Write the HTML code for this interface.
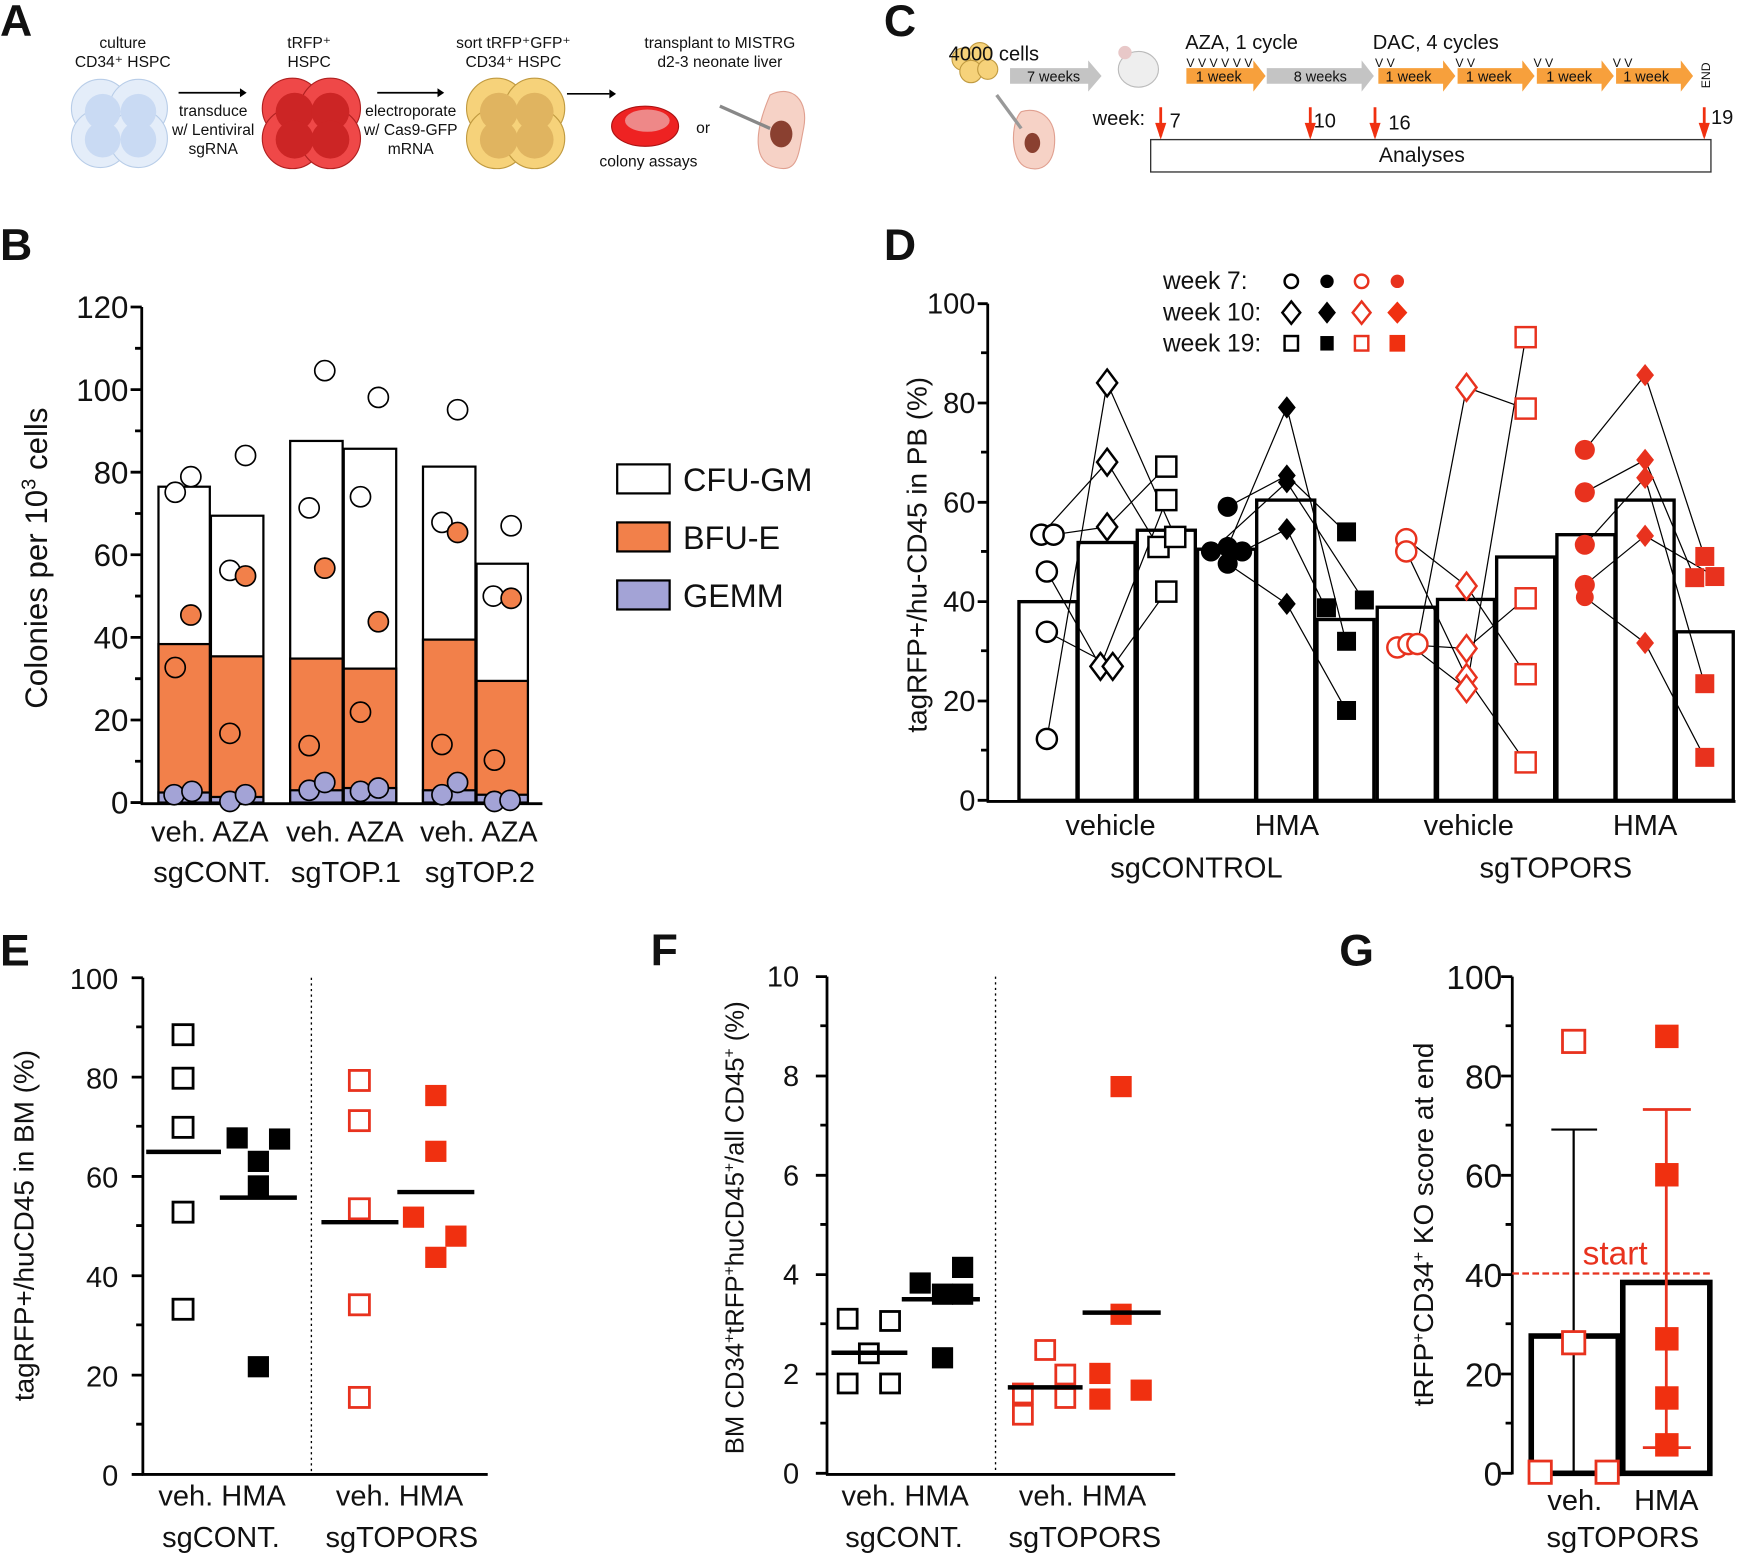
<!DOCTYPE html>
<html><head><meta charset="utf-8"><style>
html,body{margin:0;padding:0;background:#fff}
svg{display:block}
text{font-family:"Liberation Sans",Arial,sans-serif;fill:#111}
.L{font-weight:bold;font-size:40px}
.t{font-size:27px}
.s{font-size:15px}
</style></head><body>
<svg width="1750" height="1556" viewBox="0 0 1568 1394" xmlns="http://www.w3.org/2000/svg">
<text class="L" x="0" y="32">A</text>
<text class="L" x="792" y="32">C</text>
<text class="L" x="0" y="233">B</text>
<text class="L" x="792" y="233">D</text>
<text class="L" x="0" y="865">E</text>
<text class="L" x="583" y="865">F</text>
<text class="L" x="1200" y="865">G</text>

<!-- Panel A -->
<g font-size="14" text-anchor="middle">
<text x="110" y="43" style="font-size:14px">culture</text>
<text x="110" y="60" style="font-size:14px">CD34⁺ HSPC</text>
<text x="277" y="43" style="font-size:14px">tRFP⁺</text>
<text x="277" y="60" style="font-size:14px">HSPC</text>
<text x="460" y="43" style="font-size:14px">sort tRFP⁺GFP⁺</text>
<text x="460" y="60" style="font-size:14px">CD34⁺ HSPC</text>
<text x="645" y="43" style="font-size:14px">transplant to MISTRG</text>
<text x="645" y="60" style="font-size:14px">d2-3 neonate liver</text>
<text x="191" y="104" style="font-size:14px">transduce</text>
<text x="191" y="121" style="font-size:14px">w/ Lentiviral</text>
<text x="191" y="138" style="font-size:14px">sgRNA</text>
<text x="368" y="104" style="font-size:14px">electroporate</text>
<text x="368" y="121" style="font-size:14px">w/ Cas9-GFP</text>
<text x="368" y="138" style="font-size:14px">mRNA</text>
<text x="581" y="149" style="font-size:14px">colony assays</text>
<text x="630" y="119" style="font-size:14px">or</text>
</g>
<g stroke="#000" stroke-width="1.5"><line x1="160" y1="83" x2="215" y2="83"/><line x1="338" y1="83" x2="392" y2="83"/><line x1="508" y1="84" x2="546" y2="84"/></g>
<g fill="#000"><path d="M215 79l6 4-6 4z"/><path d="M392 79l6 4-6 4z"/><path d="M546 80l6 4-6 4z"/></g>
<g stroke="#b8cde8" fill="#e4edf9"><circle cx="90" cy="97" r="26"/><circle cx="124" cy="97" r="26"/><circle cx="90" cy="124" r="26"/><circle cx="124" cy="124" r="26"/></g>
<g fill="#c9daf3"><circle cx="92" cy="100" r="16"/><circle cx="124" cy="100" r="16"/><circle cx="92" cy="125" r="16"/><circle cx="124" cy="125" r="16"/></g>
<g stroke="#b02020" fill="#ef4848"><circle cx="262" cy="97" r="27"/><circle cx="296" cy="97" r="27"/><circle cx="262" cy="124" r="27"/><circle cx="296" cy="124" r="27"/></g>
<g fill="#cc2525"><circle cx="264" cy="100" r="17"/><circle cx="296" cy="100" r="17"/><circle cx="264" cy="125" r="17"/><circle cx="296" cy="125" r="17"/></g>
<g stroke="#c09a40" fill="#f6d27a"><circle cx="445" cy="97" r="27"/><circle cx="479" cy="97" r="27"/><circle cx="445" cy="124" r="27"/><circle cx="479" cy="124" r="27"/></g>
<g fill="#e0b460"><circle cx="447" cy="100" r="17"/><circle cx="479" cy="100" r="17"/><circle cx="447" cy="125" r="17"/><circle cx="479" cy="125" r="17"/></g>
<ellipse cx="578" cy="113" rx="30" ry="18" fill="#e22" stroke="#a11"/><ellipse cx="580" cy="108" rx="20" ry="10" fill="#e88"/>
<path d="M690 85c20-10 35 5 30 30s-5 40-25 35-20-30-5-65z" fill="#f6d2c6" stroke="#e0a090"/><ellipse cx="700" cy="120" rx="10" ry="12" fill="#8a4030"/>
<line x1="645" y1="95" x2="690" y2="115" stroke="#888" stroke-width="3"/>

<!-- Panel C -->
<g fill="#f6d27a" stroke="#c09a40"><circle cx="863" cy="53" r="10"/><circle cx="878" cy="48" r="10"/><circle cx="870" cy="64" r="10"/><circle cx="885" cy="62" r="9"/></g>
<text x="850" y="54" style="font-size:18px">4000 cells</text>
<path d="M905 61h70v-7l12 14-12 14v-7h-70z" fill="#c4c4c4"/><text x="944" y="73" text-anchor="middle" style="font-size:13px">7 weeks</text>
<ellipse cx="1020" cy="62" rx="18" ry="16" fill="#eee" stroke="#bbb"/><circle cx="1008" cy="47" r="6" fill="#e8c8c8"/>
<path d="M915 100c15-5 30 5 30 25s-10 30-25 25-15-40-5-50z" fill="#f6d2c6" stroke="#e0a090"/><ellipse cx="925" cy="128" rx="7" ry="9" fill="#8a4030"/>
<line x1="893" y1="85" x2="915" y2="115" stroke="#999" stroke-width="3"/>
<text x="1062" y="44" style="font-size:18px">AZA, 1 cycle</text>
<text x="1230" y="44" style="font-size:18px">DAC, 4 cycles</text>
<text x="1063" y="60" style="font-size:11px">V V V V V V</text>
<g style="font-size:11px"><text x="1232" y="60">V V</text><text x="1304" y="60">V V</text><text x="1374" y="60">V V</text><text x="1445" y="60">V V</text></g>
<g fill="#f7a03c"><path d="M1063 61h60v-7l11 14-11 14v-7h-60z"/><path d="M1235 61h58v-7l11 14-11 14v-7h-58z"/><path d="M1306 61h58v-7l11 14-11 14v-7h-58z"/><path d="M1377 61h58v-7l11 14-11 14v-7h-58z"/><path d="M1448 61h58v-7l11 14-11 14v-7h-58z"/></g>
<path d="M1135 61h85v-7l11 14-11 14v-7h-85z" fill="#c4c4c4"/>
<g style="font-size:13px" text-anchor="middle"><text x="1092" y="73">1 week</text><text x="1183" y="73">8 weeks</text><text x="1262" y="73">1 week</text><text x="1334" y="73">1 week</text><text x="1406" y="73">1 week</text><text x="1475" y="73">1 week</text></g>
<text x="1532" y="79" transform="rotate(-90 1532 79)" style="font-size:11px">END</text>
<text x="979" y="112" style="font-size:18px">week:</text>
<g style="font-size:18px"><text x="1048" y="114">7</text><text x="1177" y="114">10</text><text x="1244" y="116">16</text><text x="1533" y="111">19</text></g>
<g stroke="#f03010" stroke-width="2.5"><line x1="1040" y1="96" x2="1040" y2="122"/><line x1="1174" y1="96" x2="1174" y2="122"/><line x1="1232" y1="96" x2="1232" y2="122"/><line x1="1527" y1="96" x2="1527" y2="122"/></g>
<g fill="#f03010"><path d="M1035 110h10l-5 15z"/><path d="M1169 110h10l-5 15z"/><path d="M1227 110h10l-5 15z"/><path d="M1522 110h10l-5 15z"/></g>
<rect x="1031" y="125" width="502" height="29" fill="#fff" stroke="#333" stroke-width="1.2"/>
<text x="1274" y="145" text-anchor="middle" style="font-size:19px">Analyses</text>

<!-- Panel B -->
<g stroke="#000" stroke-width="2.5" fill="none">
<line x1="127" y1="275" x2="127" y2="720"/><line x1="126" y1="720" x2="486" y2="720"/>
<path d="M117 275h10M117 349h10M117 423h10M117 497h10M117 571h10M117 645h10M117 719h10M121 312h6M121 386h6M121 460h6M121 534h6M121 608h6M121 682h6"/>
</g>
<g class="t" text-anchor="end" style="font-size:28px"><text x="115" y="285">120</text><text x="115" y="359">100</text><text x="115" y="433">80</text><text x="115" y="507">60</text><text x="115" y="581">40</text><text x="115" y="655">20</text><text x="115" y="729">0</text></g>
<text transform="translate(42 500) rotate(-90)" text-anchor="middle" style="font-size:28px">Colonies per 10<tspan dy="-10" style="font-size:18px">3</tspan><tspan dy="10"> cells</tspan></text>
<g stroke="#000" stroke-width="2">
<rect x="142" y="436" width="46" height="283" fill="#fff"/><rect x="142" y="577" width="46" height="142" fill="#f2804a"/><rect x="142" y="710" width="46" height="9" fill="#a3a3d6"/>
<rect x="189" y="462" width="47" height="257" fill="#fff"/><rect x="189" y="588" width="47" height="131" fill="#f2804a"/><rect x="189" y="714" width="47" height="5" fill="#a3a3d6"/>
<rect x="260" y="395" width="47" height="324" fill="#fff"/><rect x="260" y="590" width="47" height="129" fill="#f2804a"/><rect x="260" y="708" width="47" height="11" fill="#a3a3d6"/>
<rect x="308" y="402" width="47" height="317" fill="#fff"/><rect x="308" y="599" width="47" height="120" fill="#f2804a"/><rect x="308" y="706" width="47" height="13" fill="#a3a3d6"/>
<rect x="379" y="418" width="47" height="301" fill="#fff"/><rect x="379" y="573" width="47" height="146" fill="#f2804a"/><rect x="379" y="708" width="47" height="11" fill="#a3a3d6"/>
<rect x="427" y="505" width="46" height="214" fill="#fff"/><rect x="427" y="610" width="46" height="109" fill="#f2804a"/><rect x="427" y="712" width="46" height="7" fill="#a3a3d6"/>
</g>
<g stroke="#000" stroke-width="1.5">
<g fill="#fff"><circle cx="157" cy="441" r="9"/><circle cx="171" cy="427" r="9"/><circle cx="220" cy="408" r="9"/><circle cx="206" cy="511" r="9"/><circle cx="277" cy="455" r="9"/><circle cx="291" cy="332" r="9"/><circle cx="323" cy="445" r="9"/><circle cx="339" cy="356" r="9"/><circle cx="396" cy="468" r="9"/><circle cx="410" cy="367" r="9"/><circle cx="442" cy="534" r="9"/><circle cx="458" cy="471" r="9"/></g>
<g fill="#f2804a"><circle cx="171" cy="551" r="9"/><circle cx="157" cy="598" r="9"/><circle cx="220" cy="516" r="9"/><circle cx="206" cy="657" r="9"/><circle cx="291" cy="509" r="9"/><circle cx="277" cy="668" r="9"/><circle cx="339" cy="557" r="9"/><circle cx="323" cy="638" r="9"/><circle cx="410" cy="477" r="9"/><circle cx="396" cy="667" r="9"/><circle cx="458" cy="536" r="9"/><circle cx="443" cy="681" r="9"/></g>
<g fill="#a3a3d6"><circle cx="156" cy="712" r="9"/><circle cx="172" cy="709" r="9"/><circle cx="206" cy="718" r="9"/><circle cx="220" cy="712" r="9"/><circle cx="277" cy="708" r="9"/><circle cx="291" cy="701" r="9"/><circle cx="323" cy="709" r="9"/><circle cx="339" cy="706" r="9"/><circle cx="396" cy="712" r="9"/><circle cx="410" cy="701" r="9"/><circle cx="443" cy="718" r="9"/><circle cx="457" cy="717" r="9"/></g>
</g>
<g style="font-size:26px" text-anchor="middle"><text x="188" y="754">veh. AZA</text><text x="309" y="754">veh. AZA</text><text x="429" y="754">veh. AZA</text>
<text x="190" y="790">sgCONT.</text><text x="310" y="790">sgTOP.1</text><text x="430" y="790">sgTOP.2</text></g>
<g stroke="#000" stroke-width="2"><rect x="553" y="416" width="47" height="26" fill="#fff"/><rect x="553" y="468" width="47" height="26" fill="#f2804a"/><rect x="553" y="520" width="47" height="26" fill="#a3a3d6"/></g>
<g style="font-size:29px"><text x="612" y="440">CFU-GM</text><text x="612" y="492">BFU-E</text><text x="612" y="544">GEMM</text></g>

<!-- Panel D -->
<g stroke="#000" stroke-width="2.5" fill="none">
<line x1="885" y1="272" x2="885" y2="718"/><line x1="884" y1="718" x2="1555" y2="718"/>
<path d="M876 272h9M876 361h9M876 450h9M876 539h9M876 628h9M876 717h9M879 316h6M879 405h6M879 494h6M879 583h6M879 672h6"/>
</g>
<g text-anchor="end" style="font-size:26px"><text x="874" y="281">100</text><text x="874" y="370">80</text><text x="874" y="459">60</text><text x="874" y="548">40</text><text x="874" y="637">20</text><text x="874" y="726">0</text></g>
<text transform="translate(830 497) rotate(-90)" text-anchor="middle" style="font-size:25px">tagRFP+/hu-CD45 in PB (%)</text>
<g fill="#fff" stroke="#000" stroke-width="3">
<rect x="913" y="539" width="52" height="178"/><rect x="966" y="486" width="51" height="231"/><rect x="1019" y="475" width="52" height="242"/>
<rect x="1073" y="492" width="52" height="225"/><rect x="1126" y="448" width="52" height="269"/><rect x="1180" y="555" width="51" height="162"/>
<rect x="1234" y="544" width="52" height="173"/><rect x="1288" y="537" width="51" height="180"/><rect x="1341" y="499" width="52" height="218"/>
<rect x="1395" y="479" width="52" height="238"/><rect x="1448" y="448" width="52" height="269"/><rect x="1502" y="566" width="51" height="151"/>
</g>
<g stroke="#000" stroke-width="1.1" fill="none">
<path d="M933 479L992 414L1038 490"/><path d="M944 479L992 472L1045 418"/><path d="M938 512L986 597L1045 448"/><path d="M938 566L997 597L1045 530"/><path d="M938 662L992 343L1053 481"/>
<path d="M1100 454L1153 426L1206 477"/><path d="M1100 490L1153 365L1206 575"/><path d="M1085 494L1153 432L1222 538"/><path d="M1113 494L1153 474L1188 545"/><path d="M1100 505L1153 541L1206 636"/>
<path d="M1260 483L1314 525L1367 604"/><path d="M1260 494L1314 607L1367 683"/><path d="M1252 577L1314 581L1367 536"/><path d="M1262 577L1314 617L1367 302"/><path d="M1270 577L1314 347L1367 366"/>
<path d="M1420 403L1474 336L1527 498"/><path d="M1420 441L1474 412L1518 517"/><path d="M1420 488L1474 428L1527 612"/><path d="M1420 524L1474 480L1536 516"/><path d="M1420 535L1474 576L1527 678"/>
</g>
<g fill="#fff" stroke="#000" stroke-width="2.2">
<circle cx="933" cy="479" r="9"/><circle cx="944" cy="479" r="9"/><circle cx="938" cy="512" r="9"/><circle cx="938" cy="566" r="9"/><circle cx="938" cy="662" r="9"/>
<path d="M992 331l9 12-9 12-9-12z"/><path d="M992 402l9 12-9 12-9-12z"/><path d="M992 460l9 12-9 12-9-12z"/><path d="M986 585l9 12-9 12-9-12z"/><path d="M997 585l9 12-9 12-9-12z"/>
<rect x="1036" y="409" width="18" height="18"/><rect x="1036" y="439" width="18" height="18"/><rect x="1029" y="481" width="18" height="18"/><rect x="1044" y="472" width="18" height="18"/><rect x="1036" y="521" width="18" height="18"/>
</g>
<g fill="#000">
<circle cx="1100" cy="454" r="9"/><circle cx="1100" cy="490" r="9"/><circle cx="1085" cy="494" r="9"/><circle cx="1113" cy="494" r="9"/><circle cx="1100" cy="505" r="9"/>
<path d="M1153 355l8 10-8 10-8-10z"/><path d="M1153 416l8 10-8 10-8-10z"/><path d="M1153 422l8 10-8 10-8-10z"/><path d="M1153 464l8 10-8 10-8-10z"/><path d="M1153 531l8 10-8 10-8-10z"/>
<rect x="1198" y="468" width="17" height="17"/><rect x="1214" y="529" width="17" height="17"/><rect x="1180" y="536" width="17" height="17"/><rect x="1198" y="566" width="17" height="17"/><rect x="1198" y="628" width="17" height="17"/>
</g>
<g fill="#fff" stroke="#e8321e" stroke-width="2.2">
<circle cx="1260" cy="483" r="9"/><circle cx="1260" cy="494" r="9"/><circle cx="1252" cy="580" r="9"/><circle cx="1262" cy="577" r="9"/><circle cx="1270" cy="577" r="9"/>
<path d="M1314 335l9 12-9 12-9-12z"/><path d="M1314 513l9 12-9 12-9-12z"/><path d="M1314 569l9 12-9 12-9-12z"/><path d="M1314 595l9 12-9 12-9-12z"/><path d="M1314 605l9 12-9 12-9-12z"/>
<rect x="1358" y="293" width="18" height="18"/><rect x="1358" y="357" width="18" height="18"/><rect x="1358" y="527" width="18" height="18"/><rect x="1358" y="595" width="18" height="18"/><rect x="1358" y="674" width="18" height="18"/>
</g>
<g fill="#e8321e">
<circle cx="1420" cy="403" r="9"/><circle cx="1420" cy="441" r="9"/><circle cx="1420" cy="488" r="9"/><circle cx="1420" cy="524" r="9"/><circle cx="1420" cy="535" r="8"/>
<path d="M1474 326l8 10-8 10-8-10z"/><path d="M1474 402l8 10-8 10-8-10z"/><path d="M1474 418l8 10-8 10-8-10z"/><path d="M1474 470l8 10-8 10-8-10z"/><path d="M1474 566l8 10-8 10-8-10z"/>
<rect x="1519" y="490" width="17" height="17"/><rect x="1510" y="509" width="17" height="17"/><rect x="1528" y="508" width="17" height="17"/><rect x="1519" y="604" width="17" height="17"/><rect x="1519" y="670" width="17" height="17"/>
</g>
<g style="font-size:22px"><text x="1042" y="259">week 7:</text><text x="1042" y="287">week 10:</text><text x="1042" y="315">week 19:</text></g>
<g stroke-width="2.2"><circle cx="1157" cy="252" r="6" fill="#fff" stroke="#000"/><circle cx="1189" cy="252" r="6" fill="#000"/><circle cx="1220" cy="252" r="6" fill="#fff" stroke="#e8321e"/><circle cx="1252" cy="252" r="6" fill="#e8321e"/>
<path d="M1157 270l8 10-8 10-8-10z" fill="#fff" stroke="#000"/><path d="M1189 270l8 10-8 10-8-10z" fill="#000"/><path d="M1220 270l8 10-8 10-8-10z" fill="#fff" stroke="#e8321e"/><path d="M1252 270l9 10-9 10-9-10z" fill="#f03010"/>
<rect x="1151" y="301" width="12" height="13" fill="#fff" stroke="#000"/><rect x="1183" y="301" width="12" height="13" fill="#000"/><rect x="1214" y="301" width="12" height="13" fill="#fff" stroke="#e8321e"/><rect x="1245" y="300" width="14" height="15" fill="#f03010"/></g>
<g style="font-size:26px" text-anchor="middle"><text x="995" y="748">vehicle</text><text x="1153" y="748">HMA</text><text x="1316" y="748">vehicle</text><text x="1474" y="748">HMA</text><text x="1072" y="786">sgCONTROL</text><text x="1394" y="786">sgTOPORS</text></g>

<!-- Panel E -->
<g stroke="#000" stroke-width="2.5" fill="none">
<line x1="128" y1="876" x2="128" y2="1321"/><line x1="127" y1="1321" x2="437" y2="1321"/>
<path d="M118 876h10M118 965h10M118 1054h10M118 1143h10M118 1232h10M118 1321h10M122 920h6M122 1009h6M122 1098h6M122 1187h6M122 1276h6"/>
</g>
<line x1="279" y1="876" x2="279" y2="1320" stroke="#000" stroke-width="1.2" stroke-dasharray="2 3"/>
<g text-anchor="end" style="font-size:26px"><text x="106" y="886">100</text><text x="106" y="975">80</text><text x="106" y="1064">60</text><text x="106" y="1153">40</text><text x="106" y="1242">20</text><text x="106" y="1331">0</text></g>
<text transform="translate(30 1098) rotate(-90)" text-anchor="middle" style="font-size:25px">tagRFP+/huCD45 in BM (%)</text>
<g fill="#fff" stroke="#000" stroke-width="2.5"><rect x="155" y="918" width="18" height="18"/><rect x="155" y="957" width="18" height="18"/><rect x="155" y="1001" width="18" height="18"/><rect x="155" y="1077" width="18" height="18"/><rect x="155" y="1164" width="18" height="18"/></g>
<g fill="#000"><rect x="203" y="1010" width="19" height="19"/><rect x="241" y="1011" width="19" height="19"/><rect x="222" y="1031" width="19" height="19"/><rect x="222" y="1053" width="19" height="19"/><rect x="222" y="1215" width="19" height="19"/></g>
<g fill="#fff" stroke="#e8321e" stroke-width="2.5"><rect x="313" y="959" width="18" height="18"/><rect x="313" y="995" width="18" height="18"/><rect x="313" y="1074" width="18" height="18"/><rect x="313" y="1160" width="18" height="18"/><rect x="313" y="1243" width="18" height="18"/></g>
<g fill="#f03010"><rect x="381" y="972" width="19" height="19"/><rect x="381" y="1022" width="19" height="19"/><rect x="361" y="1081" width="19" height="19"/><rect x="399" y="1098" width="19" height="19"/><rect x="381" y="1117" width="19" height="19"/></g>
<g stroke="#000" stroke-width="4"><line x1="131" y1="1032" x2="198" y2="1032"/><line x1="197" y1="1073" x2="266" y2="1073"/><line x1="288" y1="1095" x2="357" y2="1095"/><line x1="356" y1="1068" x2="425" y2="1068"/></g>
<g style="font-size:26px" text-anchor="middle"><text x="199" y="1349">veh. HMA</text><text x="358" y="1349">veh. HMA</text><text x="198" y="1386">sgCONT.</text><text x="360" y="1386">sgTOPORS</text></g>

<!-- Panel F -->
<g stroke="#000" stroke-width="2.5" fill="none">
<line x1="741" y1="875" x2="741" y2="1321"/><line x1="740" y1="1321" x2="1053" y2="1321"/>
<path d="M731 875h10M731 964h10M731 1053h10M731 1142h10M731 1231h10M731 1320h10M735 919h6M735 1008h6M735 1097h6M735 1186h6M735 1275h6"/>
</g>
<line x1="892" y1="875" x2="892" y2="1320" stroke="#000" stroke-width="1.2" stroke-dasharray="2 3"/>
<g text-anchor="end" style="font-size:26px"><text x="716" y="884">10</text><text x="716" y="973">8</text><text x="716" y="1062">6</text><text x="716" y="1151">4</text><text x="716" y="1240">2</text><text x="716" y="1329">0</text></g>
<text transform="translate(666 1100) rotate(-90)" text-anchor="middle" style="font-size:23px">BM CD34<tspan dy="-8" style="font-size:14px">+</tspan><tspan dy="8">tRFP</tspan><tspan dy="-8" style="font-size:14px">+</tspan><tspan dy="8">huCD45</tspan><tspan dy="-8" style="font-size:14px">+</tspan><tspan dy="8">/all CD45</tspan><tspan dy="-8" style="font-size:14px">+</tspan><tspan dy="8"> (%)</tspan></text>
<g fill="#fff" stroke="#000" stroke-width="2.5"><rect x="751" y="1173" width="17" height="17"/><rect x="789" y="1175" width="17" height="17"/><rect x="770" y="1204" width="17" height="17"/><rect x="751" y="1231" width="17" height="17"/><rect x="789" y="1231" width="17" height="17"/></g>
<g fill="#000"><rect x="815" y="1140" width="19" height="19"/><rect x="853" y="1126" width="19" height="19"/><rect x="835" y="1150" width="19" height="19"/><rect x="853" y="1150" width="19" height="19"/><rect x="835" y="1207" width="19" height="19"/></g>
<g fill="#fff" stroke="#e8321e" stroke-width="2.5"><rect x="928" y="1201" width="17" height="17"/><rect x="908" y="1240" width="17" height="17"/><rect x="946" y="1223" width="17" height="17"/><rect x="946" y="1244" width="17" height="17"/><rect x="908" y="1259" width="17" height="17"/></g>
<g fill="#f03010"><rect x="995" y="964" width="19" height="19"/><rect x="995" y="1168" width="19" height="19"/><rect x="976" y="1221" width="19" height="19"/><rect x="976" y="1244" width="19" height="19"/><rect x="1013" y="1236" width="19" height="19"/></g>
<g stroke="#000" stroke-width="4"><line x1="745" y1="1212" x2="813" y2="1212"/><line x1="808" y1="1164" x2="878" y2="1164"/><line x1="903" y1="1243" x2="970" y2="1243"/><line x1="970" y1="1176" x2="1040" y2="1176"/></g>
<g style="font-size:26px" text-anchor="middle"><text x="811" y="1349">veh. HMA</text><text x="970" y="1349">veh. HMA</text><text x="810" y="1386">sgCONT.</text><text x="972" y="1386">sgTOPORS</text></g>

<!-- Panel G -->
<g stroke="#000" stroke-width="2.5" fill="none">
<line x1="1355" y1="875" x2="1355" y2="1321"/>
<path d="M1345 875h10M1345 964h10M1345 1053h10M1345 1142h10M1345 1231h10M1345 1320h10M1349 919h6M1349 1008h6M1349 1097h6M1349 1186h6M1349 1275h6"/>
</g>
<g text-anchor="end" style="font-size:30px"><text x="1346" y="886">100</text><text x="1346" y="975">80</text><text x="1346" y="1064">60</text><text x="1346" y="1153">40</text><text x="1346" y="1242">20</text><text x="1346" y="1331">0</text></g>
<text transform="translate(1284 1097) rotate(-90)" text-anchor="middle" style="font-size:25px">tRFP<tspan dy="-8" style="font-size:15px">+</tspan><tspan dy="8">CD34</tspan><tspan dy="-8" style="font-size:15px">+</tspan><tspan dy="8"> KO score at end</tspan></text>
<g fill="#fff" stroke="#000" stroke-width="5"><rect x="1372" y="1197" width="78" height="123"/><rect x="1454" y="1149" width="78" height="171"/></g>
<line x1="1355" y1="1141" x2="1535" y2="1141" stroke="#e8321e" stroke-width="2" stroke-dasharray="6 3"/>
<text x="1418" y="1133" style="font-size:30px;fill:#e8321e">start</text>
<g stroke="#000" stroke-width="2"><line x1="1410" y1="1320" x2="1410" y2="1012"/><line x1="1390" y1="1012" x2="1431" y2="1012"/><line x1="1390" y1="1320" x2="1431" y2="1320"/></g>
<g stroke="#e8321e" stroke-width="2.5"><line x1="1493" y1="994" x2="1493" y2="1297"/><line x1="1472" y1="994" x2="1515" y2="994"/><line x1="1472" y1="1297" x2="1515" y2="1297"/></g>
<g fill="#fff" stroke="#e8321e" stroke-width="2.5"><rect x="1400" y="923" width="20" height="20"/><rect x="1400" y="1193" width="20" height="20"/><rect x="1370" y="1309" width="20" height="20"/><rect x="1430" y="1309" width="20" height="20"/></g>
<g fill="#f03010"><rect x="1483" y="918" width="21" height="21"/><rect x="1483" y="1042" width="21" height="21"/><rect x="1483" y="1189" width="21" height="21"/><rect x="1483" y="1242" width="21" height="21"/><rect x="1483" y="1284" width="21" height="21"/></g>
<g style="font-size:26px" text-anchor="middle"><text x="1411" y="1353">veh.</text><text x="1493" y="1353">HMA</text><text x="1454" y="1386">sgTOPORS</text></g>
</svg>
</body></html>
